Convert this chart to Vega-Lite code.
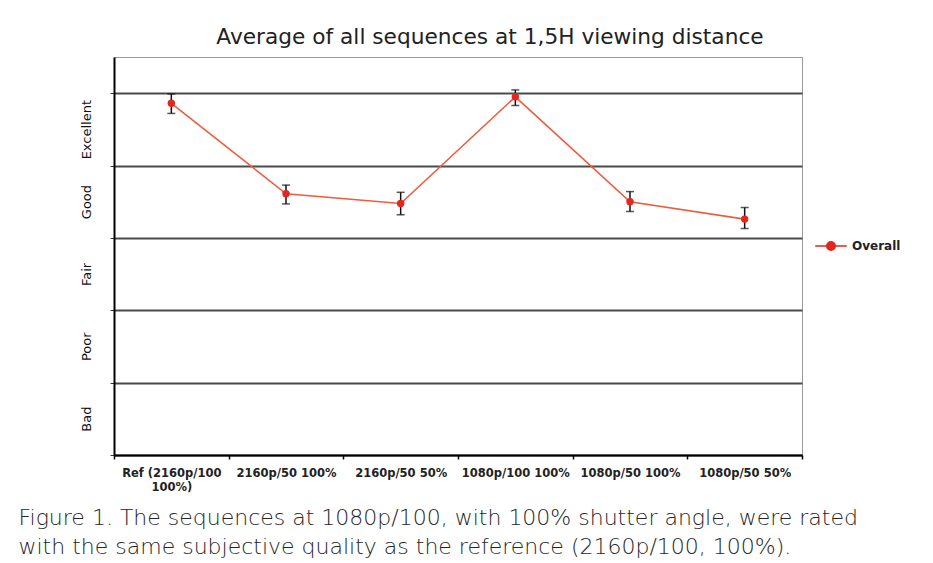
{
  "$schema": "https://vega.github.io/schema/vega-lite/v6.json",
  "background": "white",
  "padding": {"left": 18, "top": 26, "right": 10, "bottom": 0},
  "title": {
    "text": ["Figure 1. The sequences at 1080p/100, with 100% shutter angle, were rated", "with the same subjective quality as the reference (2160p/100, 100%)."],
    "orient": "bottom",
    "anchor": "start",
    "frame": "bounds",
    "font": "DejaVu Sans",
    "fontWeight": 200,
    "fontSize": 22,
    "color": "#262626",
    "lineHeight": 29,
    "offset": 15,
    "dx": -61
  },
  "data": {
    "values": [
      {"condition": "Ref (2160p/100 100%)", "series": "Overall", "mean": 4.86, "low": 4.72, "high": 4.99},
      {"condition": "2160p/50 100%", "series": "Overall", "mean": 3.61, "low": 3.47, "high": 3.73},
      {"condition": "2160p/50 50%", "series": "Overall", "mean": 3.475, "low": 3.32, "high": 3.63},
      {"condition": "1080p/100 100%", "series": "Overall", "mean": 4.95, "low": 4.83, "high": 5.045},
      {"condition": "1080p/50 100%", "series": "Overall", "mean": 3.5, "low": 3.365, "high": 3.64},
      {"condition": "1080p/50 50%", "series": "Overall", "mean": 3.26, "low": 3.13, "high": 3.42}
    ]
  },
  "vconcat": [
    {
      "title": {
        "text": "Average of all sequences at 1,5H viewing distance",
        "font": "DejaVu Sans",
        "fontSize": 21.7,
        "fontWeight": "normal",
        "color": "#222222",
        "anchor": "middle",
        "offset": 8,
        "dx": 32
      },
      "width": 688,
      "height": 398,
      "encoding": {
        "x": {
          "field": "condition",
          "type": "nominal",
          "sort": null,
          "scale": {"paddingInner": 0, "paddingOuter": 0},
          "axis": {
            "title": null,
            "tickBand": "extent",
            "labelAngle": 0,
            "labelExpr": "datum.label == 'Ref (2160p/100 100%)' ? ['Ref (2160p/100', '100%)'] : datum.label",
            "labelFont": "DejaVu Sans",
            "labelFontWeight": "bold",
            "labelFontSize": 11.5,
            "labelColor": "#222222",
            "labelLineHeight": 14,
            "labelPadding": 8,
            "tickSize": 4,
            "tickColor": "#000000",
            "tickWidth": 1.5,
            "domainColor": "#000000",
            "domainWidth": 2
          }
        }
      },
      "layer": [
        {
          "mark": {"type": "line", "color": "#ef5b3d", "strokeWidth": 1.6},
          "encoding": {
            "y": {
              "field": "mean",
              "type": "quantitative",
              "scale": {"domain": [0, 5.5], "nice": false, "zero": true},
              "axis": {
                "title": null,
                "values": [0, 1, 2, 3, 4, 5],
                "labelExpr": "['', 'Bad', 'Poor', 'Fair', 'Good', 'Excellent'][datum.value]",
                "labelAngle": -90,
                "labelAlign": "center",
                "labelBaseline": "bottom",
                "labelOffset": 36,
                "labelFlush": false,
                "labelOverlap": false,
                "labelFont": "DejaVu Sans",
                "labelFontSize": 13,
                "labelColor": "#111111",
                "labelPadding": 17,
                "tickSize": 4,
                "tickColor": "#333333",
                "grid": true,
                "gridColor": "#4a4a4a",
                "gridWidth": 2,
                "domainColor": "#000000",
                "domainWidth": 2
              }
            }
          }
        },
        {
          "mark": {"type": "errorbar", "color": "#111111", "thickness": 1.5, "ticks": {"size": 8}},
          "encoding": {
            "y": {"field": "low", "type": "quantitative"},
            "y2": {"field": "high"}
          }
        },
        {
          "mark": {"type": "point", "filled": true, "opacity": 1, "size": 55},
          "encoding": {
            "y": {"field": "mean", "type": "quantitative"},
            "color": {
              "field": "series",
              "type": "nominal",
              "scale": {"range": ["#e3261f"]},
              "legend": {
                "title": null,
                "orient": "none",
                "legendX": 700,
                "legendY": 172,
                "symbolType": "M-1,0H1M-0.27,0A0.27,0.27,0,1,1,0.27,0A0.27,0.27,0,1,1,-0.27,0Z",
                "symbolSize": 1000,
                "symbolStrokeColor": "#e3261f",
                "symbolStrokeWidth": 1.5,
                "symbolFillColor": "#e3261f",
                "labelFont": "DejaVu Sans",
                "labelFontWeight": "bold",
                "labelFontSize": 12,
                "labelColor": "#222222",
                "labelOffset": 4
              }
            }
          }
        }
      ]
    }
  ],
  "config": {
    "view": {"stroke": "#9a9a9a", "strokeWidth": 1}
  }
}
